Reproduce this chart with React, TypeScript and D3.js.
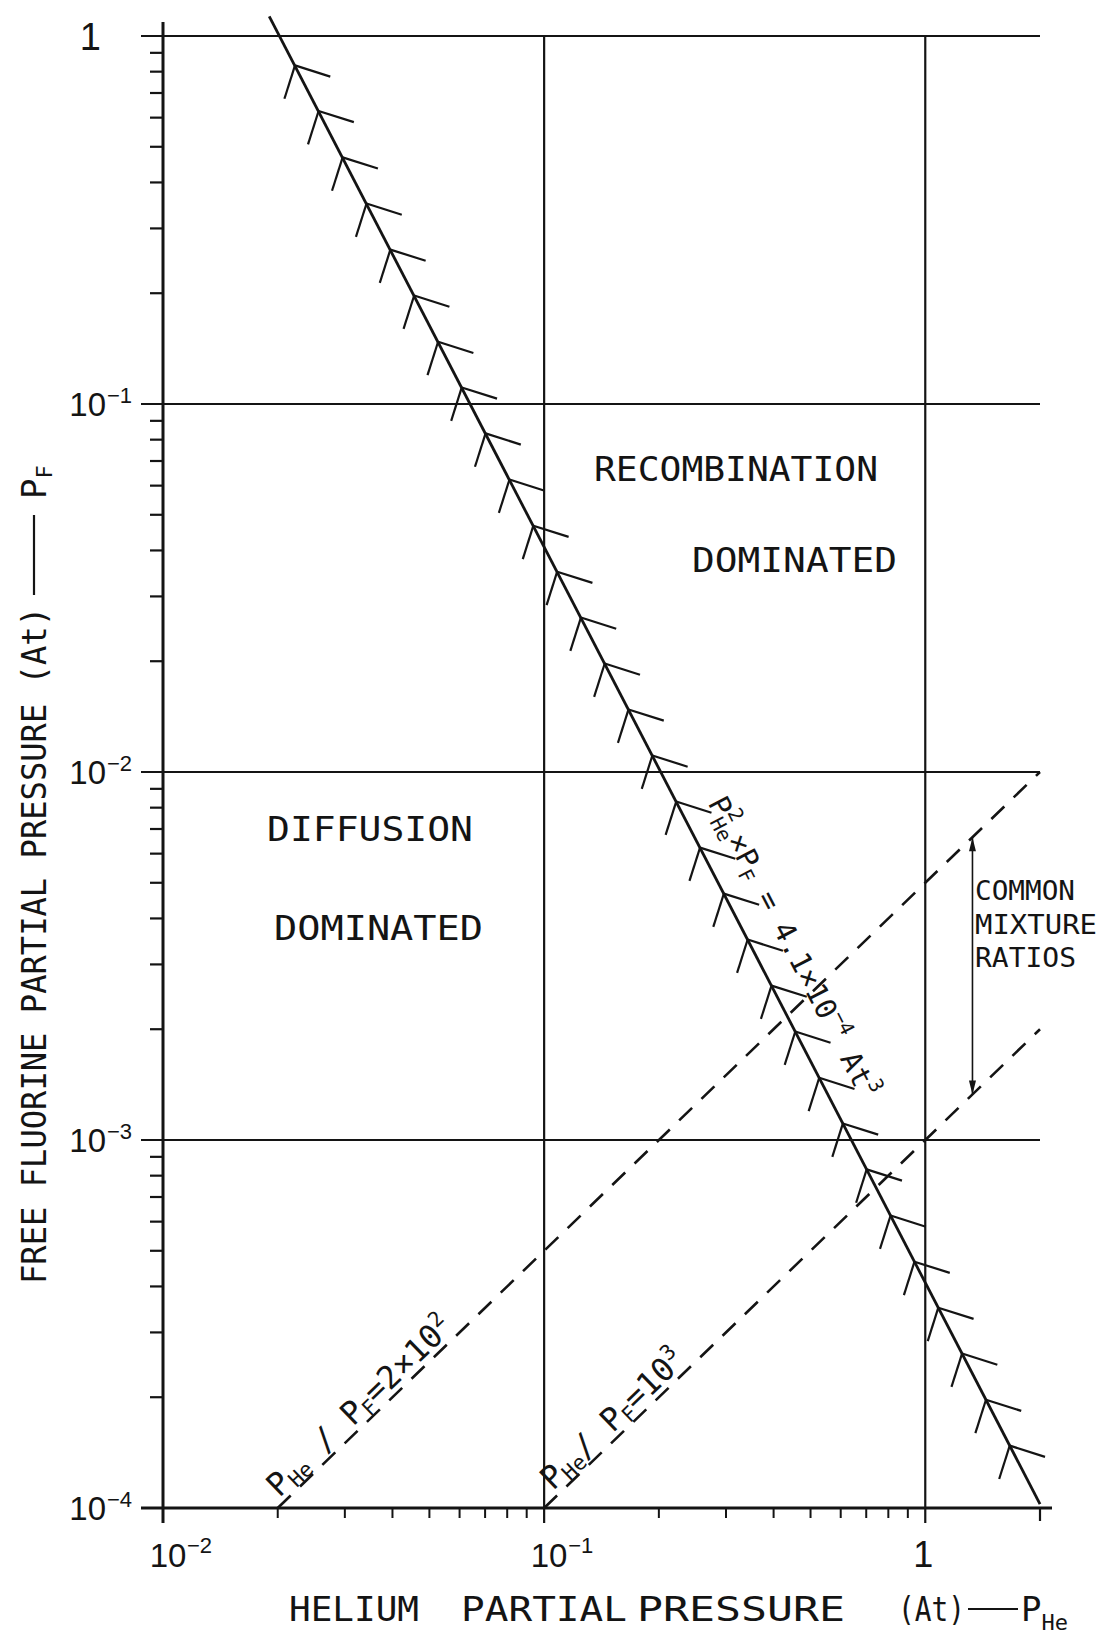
import React from 'react';
import * as d3 from 'd3';

const W = 1100;
const H = 1639;

// axes domains (log-log)
const X_DOMAIN: [number, number] = [0.01, 2];
const Y_DOMAIN: [number, number] = [1e-4, 1];

// major ticks and their labels
const xMajorTicks = [0.01, 0.1, 1];
const xTickBase = ['10', '10', '1'];
const xTickExp = ['−2', '−1', ''];
const yMajorTicks = [1, 0.1, 0.01, 0.001, 0.0001];
const yTickBase = ['1', '10', '10', '10', '10'];
const yTickExp = ['', '−1', '−2', '−3', '−4'];

// the boundary curve P_He^2 x P_F = K
const K = 4.1e-4;
const curveEnds: [number, number][] = [
  [0.019, 1.13],
  [2.0, 1.025e-4],
];
// P_He positions of the hatch (feather) marks along the curve
const featherPHe = [
  0.0222, 0.0256, 0.0296, 0.0342, 0.0395, 0.0456, 0.0527, 0.0608, 0.0702, 0.0811,
  0.0937, 0.1082, 0.1249, 0.1442, 0.1665, 0.1923, 0.2221, 0.2565, 0.2962, 0.342,
  0.395, 0.456, 0.527, 0.608, 0.702, 0.811, 0.937, 1.082, 1.249, 1.443, 1.666,
];
const curveLabelPHe = 0.232;

// mixture ratio lines P_He / P_F = ratio
const mixRatios = [200, 1000];
const mixFrom = [0.02, 0.1];
const mixTo = [2, 2];
const arrowPHe = 1.33;

const LETTER = "'DejaVu Sans Mono', monospace";
const NUM = "'Liberation Sans', Arial, sans-serif";
const INK = '#141414';

export default function App() {
  const x = d3.scaleLog().domain(X_DOMAIN).range([163, 1040]);
  const y = d3.scaleLog().domain(Y_DOMAIN).range([1508, 36]);
  const isMajor = (arr: number[], v: number) => arr.some((m) => Math.abs(m - v) / m < 1e-6);
  const xMinor = x.ticks().filter((v) => !isMajor(xMajorTicks, v) && v < 1.999);
  const yMinor = y.ticks().filter((v) => !isMajor(yMajorTicks, v));
  const line = d3
    .line<[number, number]>()
    .x((d) => x(d[0]))
    .y((d) => y(d[1]));

  const x0 = x(X_DOMAIN[0]);
  const x1 = x(X_DOMAIN[1]);
  const yTop = y(Y_DOMAIN[1]);
  const yBot = y(Y_DOMAIN[0]);

  // curve direction in pixels
  const cx0 = x(curveEnds[0][0]);
  const cy0 = y(curveEnds[0][1]);
  const cx1 = x(curveEnds[1][0]);
  const cy1 = y(curveEnds[1][1]);
  const theta = Math.atan2(cy1 - cy0, cx1 - cx0);
  const thetaDeg = (theta * 180) / Math.PI;
  const a1 = theta - Math.PI / 4;
  const a2 = theta + Math.PI / 4;

  const feathers = featherPHe.map((p) => {
    const px = x(p);
    const py = y(K / (p * p));
    return {
      px,
      py,
      e1: [px + 37 * Math.cos(a1), py + 37 * Math.sin(a1)],
      e2: [px + 35 * Math.cos(a2), py + 35 * Math.sin(a2)],
    };
  });

  const lpx = x(curveLabelPHe);
  const lpy = y(K / (curveLabelPHe * curveLabelPHe));
  const lOff = 27;
  const lax = lpx + lOff * Math.sin(theta);
  const lay = lpy - lOff * Math.cos(theta);

  const mixLines = mixRatios.map((r, i) => {
    const pts: [number, number][] = [
      [mixFrom[i], mixFrom[i] / r],
      [mixTo[i], mixTo[i] / r],
    ];
    const sx = x(pts[0][0]);
    const sy = y(pts[0][1]);
    const ex = x(pts[1][0]);
    const ey = y(pts[1][1]);
    const ang = Math.atan2(ey - sy, ex - sx);
    return { d: line(pts) as string, sx, sy, ang, r };
  });

  const arrX = x(arrowPHe);
  const arrTop = y(arrowPHe / mixRatios[0]);
  const arrBot = y(arrowPHe / mixRatios[1]);

  const mixLabel = (i: number) => {
    const m = mixLines[i];
    const along = i === 0 ? 8 : 18;
    const nrm = 6;
    const ux = Math.cos(m.ang);
    const uy = Math.sin(m.ang);
    // normal pointing up-left
    const nx = uy;
    const ny = -ux;
    const tx = m.sx + along * ux + nrm * nx;
    const ty = m.sy + along * uy + nrm * ny;
    const deg = (m.ang * 180) / Math.PI;
    return (
      <text
        key={'ml' + i}
        transform={`translate(${tx},${ty}) rotate(${deg})`}
        fontFamily={LETTER}
        fontSize={32}
        fill={INK}
      >
        <tspan>P</tspan>
        <tspan fontSize={21} dy={5}>He</tspan>
        <tspan dy={-5}>{i === 0 ? ' / P' : '/ P'}</tspan>
        <tspan fontSize={21} dy={5}>F</tspan>
        {i === 0 ? (
          <>
            <tspan dy={-5}>=2×10</tspan>
            <tspan fontSize={21} dy={-13}>2</tspan>
          </>
        ) : (
          <>
            <tspan dy={-5}>=10</tspan>
            <tspan fontSize={21} dy={-13}>3</tspan>
          </>
        )}
      </text>
    );
  };

  return (
    <svg
      width={W}
      height={H}
      viewBox={`0 0 ${W} ${H}`}
      style={{ position: 'absolute', left: 0, top: 0, background: '#fff' }}
    >
      <rect x={0} y={0} width={W} height={H} fill="#fff" />

      {/* horizontal gridlines */}
      {yMajorTicks
        .filter((v) => v > Y_DOMAIN[0])
        .map((v) => (
          <line key={'hg' + v} x1={x0 - 22} x2={x1} y1={y(v)} y2={y(v)} stroke={INK} strokeWidth={2.2} />
        ))}
      {/* vertical gridlines */}
      {xMajorTicks
        .filter((v) => v > X_DOMAIN[0])
        .map((v) => (
          <line key={'vg' + v} x1={x(v)} x2={x(v)} y1={yTop} y2={yBot + 15} stroke={INK} strokeWidth={2.2} />
        ))}

      {/* axes */}
      <line x1={x0} x2={x0} y1={yTop - 14} y2={yBot + 15} stroke={INK} strokeWidth={3} />
      <line x1={x0 - 22} x2={x1 + 12} y1={yBot} y2={yBot} stroke={INK} strokeWidth={3} />
      <line x1={x1} x2={x1} y1={yBot} y2={yBot + 13} stroke={INK} strokeWidth={2.2} />

      {/* minor ticks */}
      {yMinor.map((v) => (
        <line key={'ym' + v} x1={x0 - 13} x2={x0} y1={y(v)} y2={y(v)} stroke={INK} strokeWidth={2.2} />
      ))}
      {xMinor.map((v) => (
        <line key={'xm' + v} x1={x(v)} x2={x(v)} y1={yBot} y2={yBot + 10} stroke={INK} strokeWidth={2} />
      ))}

      {/* y tick labels */}
      {yMajorTicks.map((v, i) =>
        yTickExp[i] === '' ? (
          <text key={'yl' + v} x={101} y={y(v) + 14} textAnchor="end" fontFamily={NUM} fontSize={38} fill={INK}>
            {yTickBase[i]}
          </text>
        ) : (
          <g key={'yl' + v}>
            <text x={106} y={y(v) + 12} textAnchor="end" fontFamily={NUM} fontSize={33} fill={INK}>
              {yTickBase[i]}
            </text>
            <text x={107} y={y(v) - 1} fontFamily={NUM} fontSize={22} fill={INK}>
              {yTickExp[i]}
            </text>
          </g>
        )
      )}

      {/* x tick labels */}
      {xMajorTicks.map((v, i) =>
        xTickExp[i] === '' ? (
          <text key={'xl' + v} x={x(v) - 2} y={1567} textAnchor="middle" fontFamily={NUM} fontSize={36} fill={INK}>
            {xTickBase[i]}
          </text>
        ) : (
          <g key={'xl' + v}>
            <text x={x(v) + 5} y={1567} textAnchor="middle" fontFamily={NUM} fontSize={33} fill={INK}>
              {xTickBase[i]}
            </text>
            <text x={x(v) + 24} y={1553} fontFamily={NUM} fontSize={22} fill={INK}>
              {xTickExp[i]}
            </text>
          </g>
        )
      )}

      {/* mixture ratio dashed lines */}
      {mixLines.map((m, i) => (
        <path key={'mix' + i} d={m.d} fill="none" stroke={INK} strokeWidth={2.6} strokeDasharray="18 13" />
      ))}
      {mixLines.map((_, i) => mixLabel(i))}

      {/* boundary curve */}
      <path d={line(curveEnds) as string} fill="none" stroke={INK} strokeWidth={2.8} />
      {feathers.map((f, i) => (
        <g key={'f' + i}>
          <line x1={f.px} y1={f.py} x2={f.e1[0]} y2={f.e1[1]} stroke={INK} strokeWidth={2.2} />
          <line x1={f.px} y1={f.py} x2={f.e2[0]} y2={f.e2[1]} stroke={INK} strokeWidth={2.2} />
        </g>
      ))}

      {/* curve label */}
      <text
        transform={`translate(${lax},${lay}) rotate(${thetaDeg})`}
        fontFamily={LETTER}
        fontSize={29}
        fill={INK}
      >
        <tspan>P</tspan>
        <tspan fontSize={20} dy={-13}>2</tspan>
        <tspan fontSize={20} dx={-12} dy={20}>He</tspan>
        <tspan dy={-7}>×P</tspan>
        <tspan fontSize={20} dy={6}>F</tspan>
        <tspan dy={-6}> = 4.1×10</tspan>
        <tspan fontSize={20} dy={-13}>−4</tspan>
        <tspan dy={13}> At</tspan>
        <tspan fontSize={20} dy={-13}>3</tspan>
      </text>

      {/* common mixture ratios arrow */}
      <line x1={arrX} x2={arrX} y1={arrTop} y2={arrBot} stroke={INK} strokeWidth={1.6} />
      <path d={`M${arrX},${arrTop} L${arrX - 3.5},${arrTop + 14} L${arrX + 3.5},${arrTop + 14} Z`} fill={INK} />
      <path d={`M${arrX},${arrBot} L${arrX - 3.5},${arrBot - 14} L${arrX + 3.5},${arrBot - 14} Z`} fill={INK} />
      <text x={975} y={900} fontFamily={LETTER} fontSize={26} fill={INK} textLength={100} lengthAdjust="spacingAndGlyphs">
        COMMON
      </text>
      <text x={975} y={934} fontFamily={LETTER} fontSize={26} fill={INK} textLength={122} lengthAdjust="spacingAndGlyphs">
        MIXTURE
      </text>
      <text x={975} y={967} fontFamily={LETTER} fontSize={26} fill={INK} textLength={101} lengthAdjust="spacingAndGlyphs">
        RATIOS
      </text>

      {/* region labels */}
      <text x={594} y={481} fontFamily={LETTER} fontSize={34} fill={INK} textLength={284} lengthAdjust="spacingAndGlyphs">
        RECOMBINATION
      </text>
      <text x={692} y={572} fontFamily={LETTER} fontSize={34} fill={INK} textLength={205} lengthAdjust="spacingAndGlyphs">
        DOMINATED
      </text>
      <text x={267} y={841} fontFamily={LETTER} fontSize={34} fill={INK} textLength={206} lengthAdjust="spacingAndGlyphs">
        DIFFUSION
      </text>
      <text x={274} y={940} fontFamily={LETTER} fontSize={34} fill={INK} textLength={209} lengthAdjust="spacingAndGlyphs">
        DOMINATED
      </text>

      {/* y axis title */}
      <g transform="translate(46,1284) rotate(-90)">
        <text x={0} y={0} fontFamily={LETTER} fontSize={34} fill={INK} textLength={677} lengthAdjust="spacingAndGlyphs">
          FREE FLUORINE PARTIAL PRESSURE (At)
        </text>
        <line x1={689} x2={769} y1={-12} y2={-12} stroke={INK} strokeWidth={2.2} />
        <text x={785} y={0} fontFamily={LETTER} fontSize={34} fill={INK}>
          <tspan>P</tspan>
          <tspan fontSize={22} dy={6}>F</tspan>
        </text>
      </g>

      {/* x axis title */}
      <text x={289} y={1621} fontFamily={LETTER} fontSize={34} fill={INK} textLength={130} lengthAdjust="spacingAndGlyphs">
        HELIUM
      </text>
      <text x={461} y={1621} fontFamily={LETTER} fontSize={34} fill={INK} textLength={166} lengthAdjust="spacingAndGlyphs">
        PARTIAL
      </text>
      <text x={637} y={1621} fontFamily={LETTER} fontSize={34} fill={INK} textLength={208} lengthAdjust="spacingAndGlyphs">
        PRESSURE
      </text>
      <text x={898} y={1621} fontFamily={LETTER} fontSize={34} fill={INK} textLength={67} lengthAdjust="spacingAndGlyphs">
        (At)
      </text>
      <line x1={968} x2={1018} y1={1609} y2={1609} stroke={INK} strokeWidth={2.2} />
      <text x={1021} y={1621} fontFamily={LETTER} fontSize={34} fill={INK}>
        <tspan>P</tspan>
        <tspan fontSize={22} dy={9}>He</tspan>
      </text>
    </svg>
  );
}
